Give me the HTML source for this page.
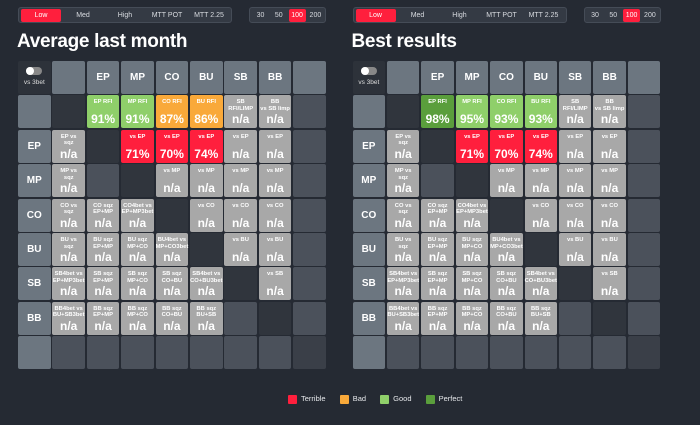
<!DOCTYPE html>
<html><head><meta charset="utf-8"><style>
body{margin:0;width:700px;height:425px;background:#252a33;font-family:"Liberation Sans",sans-serif;overflow:hidden;position:relative;color:#fff}
.bar{position:absolute;top:7px;height:16px;background:#343a44;border:1px solid #454c57;border-radius:3px;box-sizing:border-box}
.btn{position:absolute;top:1px;height:13px;font-size:7px;line-height:13px;text-align:center;color:#d8dbe0;border-radius:2px}
.btn.on{background:#ff1f3d;color:#fff}
.title{position:absolute;top:31px;font-size:19px;font-weight:bold;letter-spacing:-0.3px}
.cell{position:absolute;width:32.6px;height:33px;border-radius:2px;box-sizing:border-box;text-align:center}
.lbl{font-size:5.8px;font-weight:bold;line-height:6.5px;position:absolute;top:4px;left:0;right:0}
.val{font-size:12px;font-weight:bold;position:absolute;top:17px;left:0;right:0}
.hd{font-size:10px;font-weight:bold;line-height:33px}
.legend{position:absolute;top:394px;font-size:7.5px;color:#e6e8eb}
.sw{display:inline-block;width:9px;height:9px;border-radius:1px;vertical-align:middle;margin-right:4px}
</style></head><body>
<div id="root"></div>
<div class="legend" style="left:288px">
<span><span class="sw" style="background:#ff1f3d"></span>Terrible</span>
<span style="margin-left:12px"><span class="sw" style="background:#f9a93a"></span>Bad</span>
<span style="margin-left:12px"><span class="sw" style="background:#8fcf6a"></span>Good</span>
<span style="margin-left:12px"><span class="sw" style="background:#5a9e3c"></span>Perfect</span>
</div>
<script>
const positions=["EP","MP","CO","BU","SB","BB"];
const stakeButtons=["Low","Med","High","MTT POT","MTT 2.25"];
const sizeButtons=["30","50","100","200"];
const panelTitles=["Average last month","Best results"];
const rfiLabels=["EP RFI","MP RFI","CO RFI","BU RFI","SB RFI/LIMP","BB vs SB limp"];
const rfiAvg=[91,91,87,86,null,null];
const rfiBest=[98,95,93,93,null,null];
const vsEpAvg=[71,70,74];
const vsEpBest=[71,70,74];
// grid labels per row (rows EP..BB), columns 1..7 ; "" = empty, "D" = diagonal dark
const gridLabels=[
 ["EP vs sqz","D","vs EP","vs EP","vs EP","vs EP","vs EP"],
 ["MP vs sqz","","D","vs MP","vs MP","vs MP","vs MP"],
 ["CO vs sqz","CO sqz EP+MP","CO4bet vs EP+MP3bet","D","vs CO","vs CO","vs CO"],
 ["BU vs sqz","BU sqz EP+MP","BU sqz MP+CO","BU4bet vs MP+CO3bet","D","vs BU","vs BU"],
 ["SB4bet vs EP+MP3bet","SB sqz EP+MP","SB sqz MP+CO","SB sqz CO+BU","SB4bet vs CO+BU3bet","D","vs SB"],
 ["BB4bet vs BU+SB3bet","BB sqz EP+MP","BB sqz MP+CO","BB sqz CO+BU","BB sqz BU+SB","","D"]
];
function color(v){if(v==null)return"#a8a8a8";if(v>=97)return"#5a9e3c";if(v>=90)return"#8fcf6a";if(v>=80)return"#f9a93a";return"#ff1f3d";}
const root=document.getElementById('root');
function mk(cls,parent){const d=document.createElement('div');d.className=cls;parent.appendChild(d);return d;}
[0,1].forEach(p=>{
 const ox=18+p*334.5;
 const b=mk('bar',root);b.style.left=ox+'px';b.style.width='214px';
 
 
 const bw=[41,41,41,41,41];
 stakeButtons.forEach((t,i)=>{const e=mk('btn'+(i==0?' on':''),b);e.style.left=(2+i*42)+'px';e.style.width='40px';e.textContent=t;
  
  });
 const s=mk('bar',root);s.style.left=(ox+231)+'px';s.style.width='77px';
 
 
 sizeButtons.forEach((t,i)=>{const e=mk('btn'+(i==2?' on':''),s);e.style.left=(2+i*18.3)+'px';e.style.width='17px';e.textContent=t;
  
  });
 const ti=mk('title',root);ti.style.left=(ox-1)+'px';ti.textContent=panelTitles[p];
 
 
 const rfi=p==0?rfiAvg:rfiBest, vsep=p==0?vsEpAvg:vsEpBest;
 function cell(r,c,bg,name){const e=mk('cell',root);e.style.left=(ox+c*34.4)+'px';e.style.top=(61+r*34.4)+'px';e.style.background=bg;
  
  return e;}
 const HD='#6c7680',EM='#4b515b',DK='#30353d';
 for(let r=0;r<9;r++)for(let c=0;c<9;c++){
  if(r==0&&c==0){const e=cell(r,c,'#2d323a','vs3bet-toggle');
   e.innerHTML='<div style="position:absolute;left:8px;top:6px;width:16px;height:8px;border-radius:4px;background:#888"><div style="width:8px;height:8px;border-radius:4px;background:#fff"></div></div><div style="position:absolute;top:18px;left:0;right:0;font-size:6.5px;color:#ddd">vs 3bet</div>';continue;}
  if(r==0){const e=cell(r,c,c==8?HD:HD,'column-header');if(c>=2&&c<=7){e.className+=' hd';e.textContent=positions[c-2];}continue;}
  if(c==0){const e=cell(r,c,HD,'row-header');if(r>=2&&r<=7){e.className+=' hd';e.textContent=positions[r-2];}continue;}
  if(c==8||r==8){cell(r,c,(r==8&&c==8)?'#3a3f48':EM,'empty-cell');continue;}
  if(r==1){if(c==1){cell(r,c,DK,'diagonal-cell');continue;}
   const v=rfi[c-2];const e=cell(r,c,color(v),'rfi-cell');
   e.innerHTML='<div class="lbl">'+rfiLabels[c-2].replace(' ','<br>').replace(/^(EP|MP|CO|BU)<br>/,'$1 ')+'</div><div class="val">'+(v==null?'n/a':v+'%')+'</div>';continue;}
  const lab=gridLabels[r-2][c-1];
  if(lab=="D"){cell(r,c,DK,'diagonal-cell');continue;}
  if(lab==""){cell(r,c,EM,'empty-cell');continue;}
  let v=null;if(r==2&&c>=3&&c<=5)v=vsep[c-3];
  const e=cell(r,c,v==null?'#a8a8a8':color(v),'stat-cell');
  let l=lab;const m=l.match(/^(.*? (?:vs|sqz)) (.*)$/);if(m&&l.split(' ').length>2)l=m[1]+'<br>'+m[2];
  e.innerHTML='<div class="lbl">'+l+'</div><div class="val">'+(v==null?'n/a':v+'%')+'</div>';
 }
});
</script>
</body></html>
